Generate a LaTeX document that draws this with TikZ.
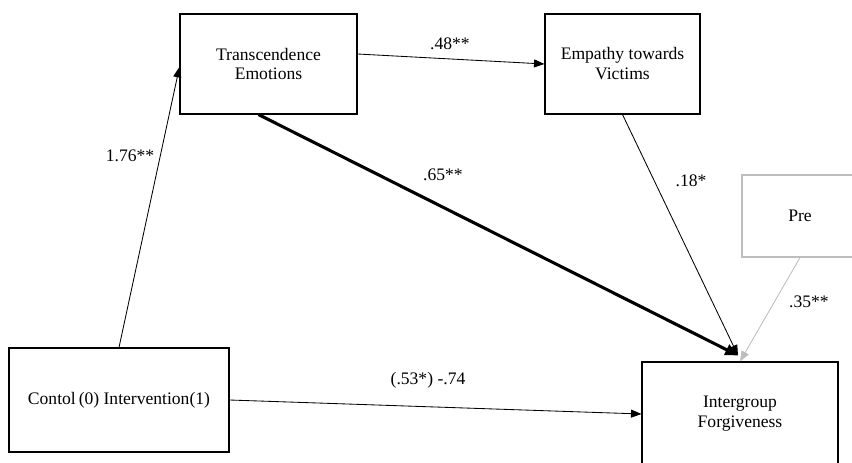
\documentclass[tikz,border=0pt]{standalone}
\usepackage{fontspec}
\setmainfont{Liberation Serif}
\usetikzlibrary{arrows.meta}
\usepackage{xcolor}
\definecolor{lightgrey}{HTML}{BDBDBD}

\begin{document}
\begin{tikzpicture}[
    box/.style={draw, rectangle, line width=0.8pt, align=center, inner sep=0pt,
        font=\fontsize{12.5}{14.2}\selectfont},
    path/.style={-{Triangle[length=2.6mm,width=2mm]}, line width=0.6pt},
    coef/.style={font=\fontsize{12.5}{14.2}\selectfont}
]
            \useasboundingbox (0,0) rectangle (21.3,-11.575);
            \clip (0,0) rectangle (21.3,-11.575);
            % Model boxes
            \node[box, minimum width=4.425cm, minimum height=2.5cm] (trans) at (6.7125,-1.6) {Transcendence\\Emotions};
            \node[box, minimum width=3.875cm, minimum height=2.5cm] (emp) at (15.5625,-1.6) {Empathy towards\\Victims};
            \node[box, draw=lightgrey, minimum width=2.9cm, minimum height=2.05cm] (pre) at (20.0,-5.4) {Pre};
            \node[box, minimum width=5.5cm, minimum height=2.6cm] (ctrl) at (2.975,-10.0) {Contol\,(0) Intervention(1)};
            \node[box, minimum width=4.9cm, minimum height=2.6cm] (forg) at (18.5,-10.35) {Intergroup\\Forgiveness};

            \draw[path] (ctrl.north) -- ([yshift=-0.075cm]trans.west);
            \draw[path] ([yshift=0.25cm]trans.east) -- (emp.west);
            \draw[path, line width=2.2pt, -{Triangle[length=3.2mm,width=2.8mm]}] ([xshift=-0.25cm]trans.south) -- ([xshift=-0.05cm,yshift=0.15cm]forg.north);
            \draw[path] (emp.south) -- ([xshift=-0.05cm,yshift=0.15cm]forg.north);
            \draw[path, draw=lightgrey, -{Triangle[length=2.6mm,width=2mm,fill=lightgrey]}] (pre.south) -- (forg.north);
            \draw[path] (ctrl.east) -- (forg.west);

            % Coefficients
            \node[coef] (c1) at (3.25,-3.9) {1.76**};
            \node[coef] (c2) at (11.25,-1.1) {.48**};
            \node[coef] (c3) at (11.075,-4.375) {.65**};
            \node[coef] (c4) at (17.275,-4.525) {.18*};
            \node[coef] (c5) at (20.225,-7.55) {.35**};
            \node[coef] (c6) at (10.7,-9.5) {(.53*) -.74};
        \end{tikzpicture}
\end{document}
